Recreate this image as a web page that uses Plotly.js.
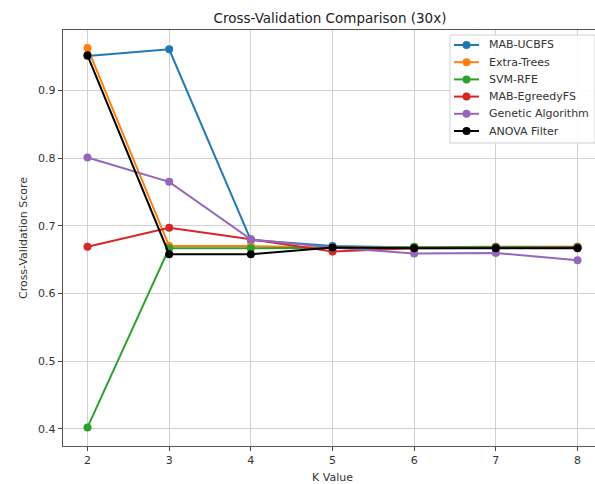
<!DOCTYPE html>
<html>
<head>
<meta charset="utf-8">
<script src="https://cdn.plot.ly/plotly-3.0.1.min.js"></script>
<style>
html, body { margin: 0; padding: 0; overflow: hidden; background: #ffffff; width: 595px; height: 484px; }
#chart { width: 700px; height: 484px; }
</style>
</head>
<body>
<div id="chart"></div>
<script>
const kValues = [2, 3, 4, 5, 6, 7, 8];
const seriesNames = ["MAB-UCBFS", "Extra-Trees", "SVM-RFE", "MAB-EgreedyFS", "Genetic Algorithm", "ANOVA Filter"];
const mabUcbfs = [0.951, 0.961, 0.679, 0.670, 0.668, 0.668, 0.668];
const extraTrees = [0.963, 0.670, 0.670, 0.668, 0.668, 0.668, 0.668];
const svmRfe = [0.402, 0.667, 0.667, 0.668, 0.669, 0.669, 0.669];
const mabEgreedy = [0.669, 0.697, 0.680, 0.662, 0.667, 0.668, 0.668];
const geneticAlg = [0.801, 0.765, 0.680, 0.668, 0.659, 0.660, 0.649];
const anovaFilter = [0.952, 0.658, 0.658, 0.668, 0.667, 0.667, 0.667];
const yTicks = [0.4, 0.5, 0.6, 0.7, 0.8, 0.9];

const allSeries = [mabUcbfs, extraTrees, svmRfe, mabEgreedy, geneticAlg, anovaFilter];
const colors = ["#1f77b4", "#ff7f0e", "#2ca02c", "#d62728", "#9467bd", "#000000"];

const font = "DejaVu Sans, sans-serif";

// plot-area geometry (pixels) used only to place the hand-built legend
const W = 700, H = 484;
const M = { l: 63, r: 98, t: 30, b: 38 };
const pw = W - M.l - M.r, ph = H - M.t - M.b;
const px = v => (v - M.l) / pw;
const py = v => (H - M.b - v) / ph;

const traces = allSeries.map((vals, i) => ({
  x: kValues,
  y: vals,
  name: seriesNames[i],
  type: "scatter",
  mode: "lines+markers",
  line: { color: colors[i], width: 2 },
  marker: { color: colors[i], size: 8 },
  showlegend: false
}));

// legend built from the series names / colours
const shapes = [{
  type: "rect", xref: "paper", yref: "paper",
  x0: px(450), x1: px(595), y0: py(143), y1: py(35),
  fillcolor: "rgba(255,255,255,0.9)", line: { color: "#d0d0d0", width: 1 }, layer: "above"
}];
const annotations = [];
seriesNames.forEach((name, i) => {
  const yy = 45 + 17.2 * i;
  shapes.push({
    type: "line", xref: "paper", yref: "paper",
    x0: px(454), x1: px(479), y0: py(yy), y1: py(yy),
    line: { color: colors[i], width: 2 }, layer: "above"
  });
  shapes.push({
    type: "circle", xref: "paper", yref: "paper",
    xsizemode: "pixel", ysizemode: "pixel",
    xanchor: px(466.5), yanchor: py(yy),
    x0: -4, x1: 4, y0: -4, y1: 4,
    fillcolor: colors[i], line: { color: colors[i], width: 0 }, layer: "above"
  });
  annotations.push({
    xref: "paper", yref: "paper", x: px(487), y: py(yy),
    xanchor: "left", yanchor: "middle", showarrow: false,
    text: name, font: { family: font, size: 11, color: "#333333" }
  });
});

const layout = {
  width: W,
  height: H,
  margin: M,
  paper_bgcolor: "#ffffff",
  plot_bgcolor: "#ffffff",
  font: { family: font, size: 11, color: "#333333" },
  title: {
    text: "Cross-Validation Comparison (30x)",
    font: { family: font, size: 13.5, color: "#222222" },
    x: 330 / W, xanchor: "center", xref: "container",
    y: 1 - 18 / H, yanchor: "middle", yref: "container"
  },
  xaxis: {
    range: [1.7, 8.3],
    tickvals: kValues,
    ticks: "outside", ticklen: 4, tickcolor: "#444444",
    showgrid: true, gridcolor: "#d0d0d0", gridwidth: 1,
    showline: true, linecolor: "#555555", linewidth: 1.2, mirror: true,
    zeroline: false,
    tickfont: { family: font, size: 11, color: "#333333" },
    title: { text: "K Value", font: { family: font, size: 11, color: "#333333" }, standoff: 6 }
  },
  yaxis: {
    range: [0.3745, 0.9895],
    tickvals: yTicks,
    ticks: "outside", ticklen: 4, tickcolor: "#444444",
    showgrid: true, gridcolor: "#d0d0d0", gridwidth: 1,
    showline: true, linecolor: "#555555", linewidth: 1.2, mirror: false,
    zeroline: false,
    tickfont: { family: font, size: 11, color: "#333333" },
    title: { text: "Cross-Validation Score", font: { family: font, size: 11, color: "#333333" }, standoff: 8 }
  },
  shapes: shapes,
  annotations: annotations,
  showlegend: false
};

Plotly.newPlot("chart", traces, layout, { displayModeBar: false, staticPlot: true });
</script>
</body>
</html>
